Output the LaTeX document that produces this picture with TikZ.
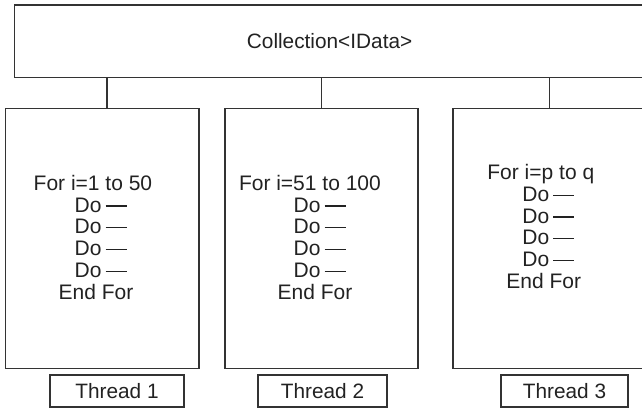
\documentclass[tikz,border=0pt]{standalone}
\usepackage{fontspec}
\setmainfont{Liberation Sans}
\definecolor{ink}{HTML}{222222}
\definecolor{edge}{HTML}{333333}
\newcommand\dodash{Do\hspace{4pt}\rule[5.5pt]{21pt}{1.3pt}}
\tikzset{
  box/.style={draw=edge, line width=1.1pt, rectangle, inner sep=0pt, outer sep=0pt},
  code/.style={text=ink, font=\fontsize{21}{21.7}\selectfont, align=left, anchor=base west, inner sep=0pt},
  lbl/.style={text=ink, font=\fontsize{20.8}{24}\selectfont},
  conn/.style={draw=edge, line width=1.1pt}
}
\begin{document}
\begin{tikzpicture}[x=1pt, y=-1pt]
\clip (0,0) rectangle (642,410);
\useasboundingbox (0,0) rectangle (642,410);
% top collection box
\node[box, minimum width=630.7pt, minimum height=72.7pt, lbl] (top) at (329.6,41.35) {Collection<IData>};
% thread boxes
\node[box, minimum width=193.5pt, minimum height=259.8pt] (b1) at (102.25,238.4) {};
\node[box, minimum width=193pt, minimum height=259.8pt] (b2) at (321.5,238.4) {};
\node[box, minimum width=193pt, minimum height=259.8pt] (b3) at (549.5,238.4) {};
% connectors
\coordinate (c1) at (107,0);
\coordinate (c2) at (321.5,0);
\coordinate (c3) at (549.5,0);
\draw[conn] (top.south -| c1) -- (b1.north -| c1);
\draw[conn] (top.south -| c2) -- (b2.north -| c2);
\draw[conn] (top.south -| c3) -- (b3.north -| c3);
% code text (anchored at the baseline of the last line)
\node[code] (t1) at (33.5,299) {For i=1 to 50\\
\hspace*{41pt}\dodash\\
\hspace*{41pt}\dodash\\
\hspace*{41pt}\dodash\\
\hspace*{41pt}\dodash\\
\hspace*{25pt}End For};
\node[code] (t2) at (238.8,299) {For i=51 to 100\\
\hspace*{54.7pt}\dodash\\
\hspace*{54.7pt}\dodash\\
\hspace*{54.7pt}\dodash\\
\hspace*{54.7pt}\dodash\\
\hspace*{38.7pt}End For};
\node[code] (t3) at (487.2,288.3) {For i=p to q\\
\hspace*{35pt}\dodash\\
\hspace*{35pt}\dodash\\
\hspace*{35pt}\dodash\\
\hspace*{35pt}\dodash\\
\hspace*{19pt}End For};
% thread labels
\node[box, minimum width=134pt, minimum height=32pt, lbl] (l1) at (117,391) {Thread 1};
\node[box, minimum width=129pt, minimum height=32pt, lbl] (l2) at (322.5,391) {Thread 2};
\node[box, minimum width=127pt, minimum height=32pt, lbl] (l3) at (564.5,391) {Thread 3};
\end{tikzpicture}
\end{document}
